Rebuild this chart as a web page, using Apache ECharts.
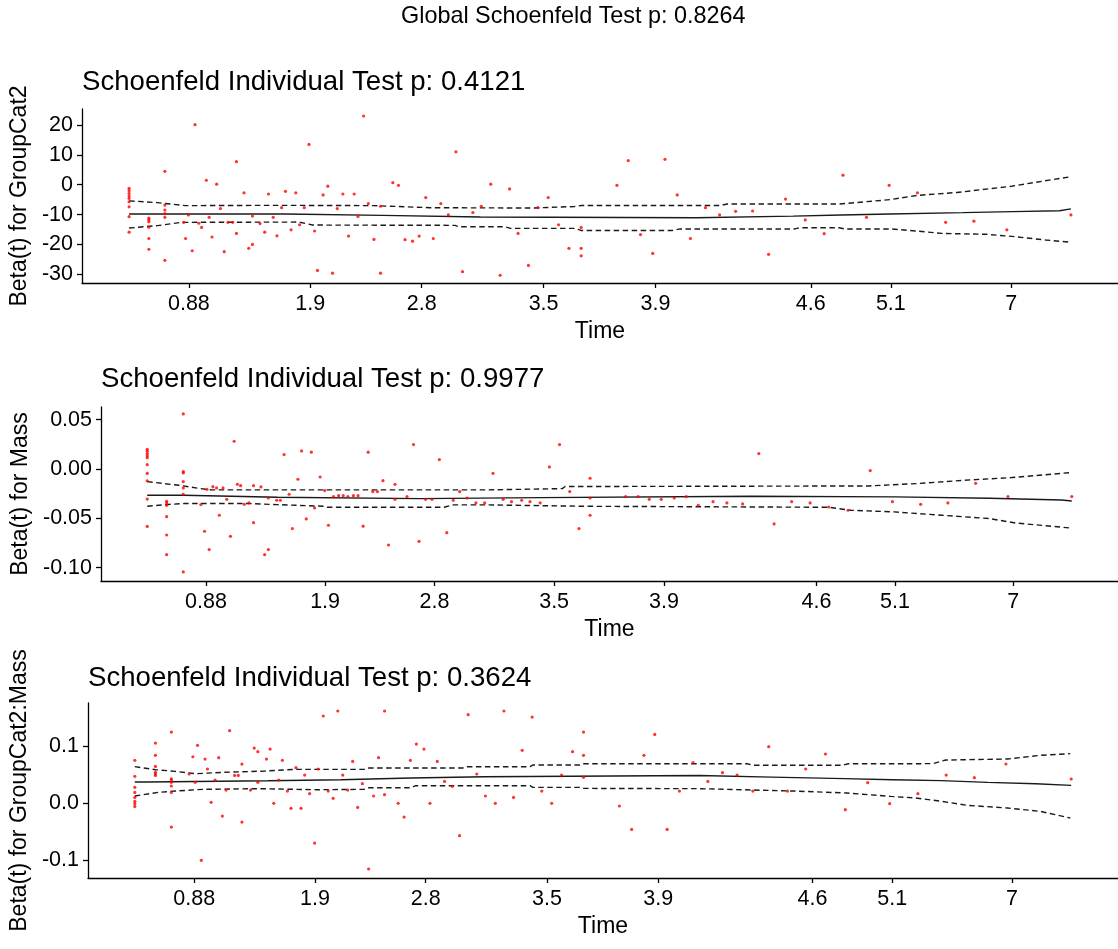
<!DOCTYPE html>
<html>
<head>
<meta charset="utf-8">
<script src="https://cdn.jsdelivr.net/npm/echarts@6/dist/echarts.min.js"></script>
<style>
html,body{margin:0;padding:0;background:#fff;}
#chart{width:1118px;height:949px;}
</style>
</head>
<body>
<div id="chart"></div>
<script>
// ---- texts ----
const globalTitle = 'Global Schoenfeld Test p: 0.8264';
const panelTitles = ['Schoenfeld Individual Test p: 0.4121', 'Schoenfeld Individual Test p: 0.9977', 'Schoenfeld Individual Test p: 0.3624'];
const yNames = ['Beta(t) for GroupCat2', 'Beta(t) for Mass', 'Beta(t) for GroupCat2:Mass'];
const xName = 'Time';

// ---- x axis: transformed time (0..1000 over the event range), labelled with original times ----
const timeTickPos = [63.5, 192.4, 310.7, 440.1, 558.9, 723.8, 808.8, 936.7];
const timeTickLabels = ['0.88', '1.9', '2.8', '3.5', '3.9', '4.6', '5.1', '7'];
const xRange = [-50, 1050];

// ---- y axes ----
const yTicks1 = [-30, -20, -10, 0, 10, 20];
const yTicks2 = [-0.10, -0.05, 0, 0.05];
const yTicks3 = [-0.1, 0, 0.1];
const yRange1 = [-32.9, 25.35];
const yRange2 = [-0.1135, 0.0628];
const yRange3 = [-0.1319, 0.1759];

// ---- Panel 1: GroupCat2 ----
const groupCat2Points = [
 [0,-1.2],[0,-2.0],[0,-2.9],[0,-3.8],[0,-4.6],[0,-5.7],[0,-7.4],[0,-10.7],[0,-15.9],
 [21,-11.2],[21,-11.8],[21,-12.4],[21,-14.2],[21,-18.0],[21,-21.6],
 [38,4.5],[38,-6.8],[38,-8.5],[38,-9.7],[38,-10.9],[38,-25.3],
 [58,-12.6],[60,-18.0],[63,-10.1],[67,-22.1],[70,20.1],[74,-12.9],[77,-14.3],[82,1.5],[85,-10.9],[88,-17.5],
 [93,0.2],[97,-8.0],[101,-22.4],[105,-12.6],[110,-12.6],[114,7.7],[114,-16.3],[122,-2.7],[127,-21.3],[131,-20.0],
 [131,-10.5],[139,-13.0],[144,-15.9],[148,-3.1],[153,-10.9],[157,-17.1],[162,-7.7],[166,-2.2],[172,-15.1],[177,-2.7],
 [181,-13.4],[186,-7.7],[191,13.5],[197,-15.5],[200,-28.7],[206,-3.4],[211,-0.5],[216,-29.6],[221,-8.0],[227,-3.1],
 [233,-17.2],[239,-3.1],[243,-10.6],[249,23.0],[254,-6.3],[260,-18.3],[267,-7.2],[267,-29.6],[280,0.7],[286,-0.2],
 [293,-18.4],[301,-18.9],[308,-17.2],[315,-4.3],[323,-18.0],[331,-6.3],[339,-10.1],[347,11.0],[354,-29.1],[365,-9.3],
 [374,-7.2],[384,0.2],[394,-30.3],[404,-1.4],[413,-16.3],[424,-27.0],[434,-7.7],[445,-4.3],[456,-13.4],[467,-21.3],
 [480,-14.3],[480,-21.3],[480,-23.8],[518,-0.2],[530,8.1],[543,-16.7],[556,-23.0],[569,8.5],[582,-3.4],[596,-18.0],
 [612,-7.7],[627,-10.1],[644,-8.9],[662,-8.8],[679,-23.3],[697,-4.8],[718,-11.8],[738,-16.4],[758,3.2],[783,-10.9],
 [807,-0.2],[837,-2.7],[867,-12.6],[897,-12.2],[932,-15.1],[1000,-10.1]
];
const groupCat2Fit = [
 [0,-9.8],[166,-9.8],[166,-10.25],[269,-10.25],[269,-10.8],[373,-10.8],[373,-11.05],[602,-11.05],[602,-10.5],
 [705,-10.5],[705,-10.15],[756,-10.15],[756,-9.8],[808,-9.8],[808,-9.35],[885,-9.35],[885,-9.0],[938,-9.0],
 [938,-8.7],[988,-8.7],[988,-8.1],[1000,-8.1]
];
const groupCat2Upper = [
 [0,-5.4],[30,-6.0],[60,-7.0],[160,-6.9],[260,-7.0],[320,-7.7],[427,-7.8],[473,-7.3],[480,-6.95],[628,-6.95],
 [635,-6.45],[754,-6.45],[808,-5.0],[836,-3.6],[879,-2.6],[937,-0.5],[998,2.6]
];
const groupCat2Lower = [
 [0,-14.5],[30,-13.7],[55,-12.6],[180,-12.5],[195,-13.5],[346,-13.6],[350,-14.05],[399,-14.05],[405,-14.6],
 [473,-14.6],[480,-15.3],[577,-15.3],[585,-14.8],[707,-14.8],[712,-14.4],[754,-14.4],[760,-14.8],[809,-14.8],
 [836,-15.5],[863,-16.3],[910,-16.6],[941,-17.4],[973,-18.5],[998,-19.2]
];

// ---- Panel 2: Mass ----
const massPoints = [
 [0,0.0200],[0,0.0180],[0,0.0156],[0,0.0135],[0,0.0115],[0,0.0044],[0,-0.0045],[0,-0.0120],[0,-0.0305],[0,-0.0582],
 [21,-0.0327],[21,-0.0344],[21,-0.0368],[21,-0.0483],[21,-0.0669],[21,-0.0868],
 [39,0.0558],[39,-0.0027],[39,-0.0040],[39,-0.0128],[39,-0.0192],[39,-0.0256],[39,-0.1043],
 [58,-0.0361],[62,-0.0631],[64.5,-0.0206],[67,-0.0817],[71,-0.0179],[75,-0.0192],[78,-0.0469],[82,-0.0192],[86,-0.0307],
 [90,-0.0682],[94,0.0281],[97.5,-0.0155],[101,-0.0169],[105,-0.0358],[110,-0.0344],[115,-0.0169],[115,-0.0544],[123,-0.0182],
 [127,-0.0868],[131,-0.0817],[131,-0.0294],[140,-0.0317],[144,-0.0317],[148,0.0146],[153.5,-0.0256],[157,-0.0604],[163,-0.0104],
 [167,0.0183],[172,-0.0506],[177.5,0.0170],[181,-0.0395],[187,-0.0081],[192,-0.0219],[196,-0.0570],[201.5,-0.0280],[207,-0.0270],
 [212,-0.0270],[217,-0.0280],[223,-0.0270],[228,-0.0270],[233.5,-0.0580],[239,0.0170],[244,-0.0229],[249,-0.0229],[255,-0.0118],
 [261,-0.0770],[268,-0.0155],[268,-0.0307],[281,-0.0280],[288,0.0247],[294,-0.0733],[301,-0.0307],[308,-0.0307],[316,0.0095],
 [324,-0.0645],[331,-0.0317],[338,-0.0229],[346,-0.0294],[355.5,-0.0344],[365,-0.0344],[374,-0.0044],[385,-0.0307],[394,-0.0331],
 [405,-0.0317],[414,-0.0331],[425,-0.0344],[435,0.0021],[446,0.0247],[457,-0.0229],[467,-0.0604],[479,-0.0094],[479,-0.0294],
 [479,-0.0469],[517.5,-0.0280],[531,-0.0280],[543,-0.0307],[556,-0.0307],[570,-0.0294],[583,-0.0280],[596,-0.0368],[612,-0.0331],
 [627,-0.0344],[644,-0.0354],[661.5,0.0156],[678,-0.0557],[697,-0.0331],[717,-0.0344],[737,-0.0385],[758,-0.0418],[782,-0.0016],
 [806,-0.0331],[836.5,-0.0358],[866,-0.0344],[896,-0.0145],[931,-0.0280],[1000,-0.0280]
];
const massFit = [
 [0,-0.0266],[39,-0.0266],[39,-0.0277],[91,-0.0277],[91,-0.0287],[141,-0.0287],[141,-0.0300],[295,-0.0300],
 [295,-0.0290],[425,-0.0290],[425,-0.0277],[654,-0.0277],[654,-0.0283],[808,-0.0283],[808,-0.0297],[911,-0.0297],
 [911,-0.0314],[989,-0.0314],[989,-0.0324],[1000,-0.0324]
];
const massUpper = [
 [0,-0.0128],[34,-0.0165],[63,-0.0206],[70,-0.0212],[368,-0.0212],[370,-0.0199],[449,-0.0199],[452,-0.0178],
 [780,-0.0172],[832,-0.0148],[884,-0.0114],[935,-0.0087],[998,-0.0037]
];
const massLower = [
 [0,-0.0378],[20,-0.0361],[40,-0.0350],[110,-0.0350],[112,-0.0361],[140,-0.0361],[142,-0.0378],[192,-0.0378],
 [195,-0.0388],[321,-0.0388],[331,-0.0364],[368,-0.0364],[370,-0.0378],[474,-0.0378],[476,-0.0388],[737,-0.0388],
 [761,-0.0418],[808,-0.0435],[860,-0.0469],[911,-0.0503],[939,-0.0547],[998,-0.0597]
];

// ---- Panel 3: GroupCat2:Mass ----
const interactionPoints = [
 [0,0.0750],[0,0.0470],[0,0.0275],[0,0.0187],[0,0.0099],[0,0.0030],[0,-0.0010],[0,-0.0060],
 [22,0.1055],[22,0.0838],[22,0.0644],[22,0.0539],[22,0.0510],[22,0.0486],
 [39,0.1248],[39,0.0427],[39,0.0404],[39,0.0363],[39,0.0299],[39,0.0187],[39,-0.0423],
 [58,0.0510],[62,0.0814],[64.5,0.0363],[67,0.1014],[71,-0.1009],[75,0.0773],[77.6,0.0598],[81.5,0.0012],[85.7,0.0404],
 [89.6,0.0797],[93.5,-0.0229],[97.4,0.0228],[101.3,0.1272],[106.6,0.0486],[110.5,0.0486],[114.4,0.0685],[114.4,-0.0335],
 [123.6,0.0228],[127.5,0.0967],[131.4,0.0902],[131.4,0.0363],[140.6,0.0773],[144.5,0.0949],[148.4,-0.0006],[153.7,0.0404],
 [157.6,0.0750],[163,0.0210],[166.8,-0.0094],[172.1,0.0621],[177.5,-0.0094],[181.4,0.0492],[186.7,0.0164],[192,-0.0704],
 [195.9,0.0598],[201.2,0.1530],[206.5,0.0210],[211.8,0.0082],[216.8,0.1618],[222.1,0.0492],[227.4,0.0228],[232.7,0.0732],
 [238,-0.0077],[243,0.0340],[249.7,-0.1161],[255,0.0123],[260.3,0.0797],[266.7,0.1618],[266.7,0.0146],[281.2,-0.0006],
 [287.6,-0.0247],[294.3,0.0750],[300.7,0.1037],[308.8,0.0949],[315.2,-0.0006],[323,0.0732],[330.8,0.0380],[339,0.0293],
 [346.8,-0.0575],[356,0.1553],[365.2,0.0510],[374.4,0.0123],[385,-0.0006],[394.2,0.1618],[404.5,0.0099],[413.7,0.0926],
 [424.3,0.1512],[434.6,0.0210],[445.2,-0.0006],[455.8,0.0492],[467.5,0.0902],[479.2,0.1248],[479.2,0.0838],[479.2,0.0451],
 [517.5,-0.0053],[530.6,-0.0464],[543.7,0.0838],[555.3,0.1207],[568.5,-0.0464],[581.6,0.0210],[596.1,0.0709],[612,0.0380],
 [627.6,0.0533],[643.2,0.0492],[660,0.0210],[677,0.0991],[697,0.0210],[716.5,0.0598],[737.6,0.0862],[758.8,-0.0117],
 [782.7,0.0358],[806.2,-0.0012],[836.3,0.0164],[866.5,0.0492],[896.6,0.0445],[930.3,0.0686],[1000,0.0422]
];
const interactionFit = [
 [0,0.0370],[13,0.0370],[13,0.0392],[142,0.0392],[142,0.0410],[220,0.0410],[220,0.0439],[295,0.0439],[295,0.0463],
 [373,0.0463],[373,0.0484],[603,0.0484],[603,0.0455],[680,0.0455],[680,0.0428],[758,0.0428],[758,0.0410],[809,0.0410],
 [809,0.0393],[861,0.0393],[861,0.0363],[911,0.0363],[911,0.0340],[962,0.0340],[962,0.0311],[1000,0.0311]
];
const interactionUpper = [
 [0,0.0639],[22,0.0586],[43,0.0557],[65,0.0516],[96,0.0540],[139,0.0562],[171,0.0592],[245,0.0592],[250,0.0615],
 [350,0.0615],[355,0.0639],[422,0.0639],[425,0.0668],[475,0.0668],[478,0.0690],[654,0.0690],[660,0.0665],[756,0.0665],
 [762,0.0690],[852,0.0692],[866,0.0756],[932,0.0774],[967,0.0838],[999,0.0868]
];
const interactionLower = [
 [0,0.0123],[25,0.0187],[43,0.0210],[72,0.0240],[132,0.0252],[194,0.0234],[245,0.0240],[250,0.0269],[295,0.0269],
 [300,0.0304],[422,0.0304],[425,0.0275],[475,0.0275],[478,0.0257],[603,0.0252],[705,0.0210],[760,0.0176],[807,0.0117],
 [834,0.0088],[862,0.0029],[889,-0.0041],[932,-0.0088],[967,-0.0147],[999,-0.0264]
];

// ---- layout (pixels) ----
const FONT = '"Liberation Sans", Arial, sans-serif';
const grids = [
  {left: 82, top: 109, width: 1040, height: 174},
  {left: 101, top: 407, width: 1021, height: 174},
  {left: 88, top: 703, width: 1034, height: 175}
];
const yNameGaps = [50, 69, 53];
const titleTops = [68, 365.5, 664.5];
const yTickSets = [yTicks1, yTicks2, yTicks3];
const yRanges = [yRange1, yRange2, yRange3];
const yFormatters = [v => String(Math.round(v)), v => v.toFixed(2), v => v.toFixed(1)];
const panels = [
  [groupCat2Points, groupCat2Fit, groupCat2Upper, groupCat2Lower],
  [massPoints, massFit, massUpper, massLower],
  [interactionPoints, interactionFit, interactionUpper, interactionLower]
];

const axisLineStyle = {color: '#000', width: 1.3};
const title = [{
  text: globalTitle, left: 401, top: 5, padding: 0,
  textStyle: {fontFamily: FONT, fontSize: 23.4, fontWeight: 'normal', color: '#000'}
}];
const xAxis = [], yAxis = [], series = [];
panels.forEach((p, i) => {
  title.push({
    text: panelTitles[i], left: grids[i].left, top: titleTops[i], padding: 0,
    textStyle: {fontFamily: FONT, fontSize: 27.6, fontWeight: 'normal', color: '#000'}
  });
  xAxis.push({
    type: 'value', gridIndex: i, min: xRange[0], max: xRange[1],
    name: xName, nameLocation: 'middle', nameGap: 37,
    nameTextStyle: {fontFamily: FONT, fontSize: 23, color: '#000'},
    axisLine: {show: true, onZero: false, lineStyle: axisLineStyle},
    axisTick: {show: true, length: 5, lineStyle: axisLineStyle, customValues: timeTickPos},
    axisLabel: {
      fontFamily: FONT, fontSize: 21.5, color: '#000', margin: 10,
      customValues: timeTickPos,
      formatter: v => {
        let best = 0;
        timeTickPos.forEach((t, k) => { if (Math.abs(t - v) < Math.abs(timeTickPos[best] - v)) best = k; });
        return timeTickLabels[best];
      }
    },
    splitLine: {show: false}
  });
  yAxis.push({
    type: 'value', gridIndex: i, min: yRanges[i][0], max: yRanges[i][1],
    name: yNames[i], nameLocation: 'middle', nameGap: yNameGaps[i], nameRotate: 90,
    nameTextStyle: {fontFamily: FONT, fontSize: 23, color: '#000'},
    axisLine: {show: true, onZero: false, lineStyle: axisLineStyle},
    axisTick: {show: true, length: 5, lineStyle: axisLineStyle, customValues: yTickSets[i]},
    axisLabel: {fontFamily: FONT, fontSize: 21.5, color: '#000', margin: 9,
      customValues: yTickSets[i], formatter: yFormatters[i]},
    splitLine: {show: false}
  });
  const lineBase = {type: 'line', xAxisIndex: i, yAxisIndex: i, showSymbol: false, symbol: 'none', silent: true, z: 3};
  series.push(Object.assign({}, lineBase, {data: p[1], lineStyle: {color: '#1a1a1a', width: 1.4}}));
  series.push(Object.assign({}, lineBase, {data: p[2], lineStyle: {color: '#1a1a1a', width: 1.4, type: [5.5, 3.5]}}));
  series.push(Object.assign({}, lineBase, {data: p[3], lineStyle: {color: '#1a1a1a', width: 1.4, type: [5.5, 3.5]}}));
  series.push({
    type: 'scatter', xAxisIndex: i, yAxisIndex: i, data: p[0], symbol: 'circle', symbolSize: 3.2,
    itemStyle: {color: '#FF0000'}, silent: true, z: 4
  });
});

const chart = echarts.init(document.getElementById('chart'), null, {renderer: 'canvas'});
chart.setOption({
  animation: false,
  backgroundColor: '#fff',
  title: title,
  grid: grids,
  xAxis: xAxis,
  yAxis: yAxis,
  series: series
});
</script>
</body>
</html>
